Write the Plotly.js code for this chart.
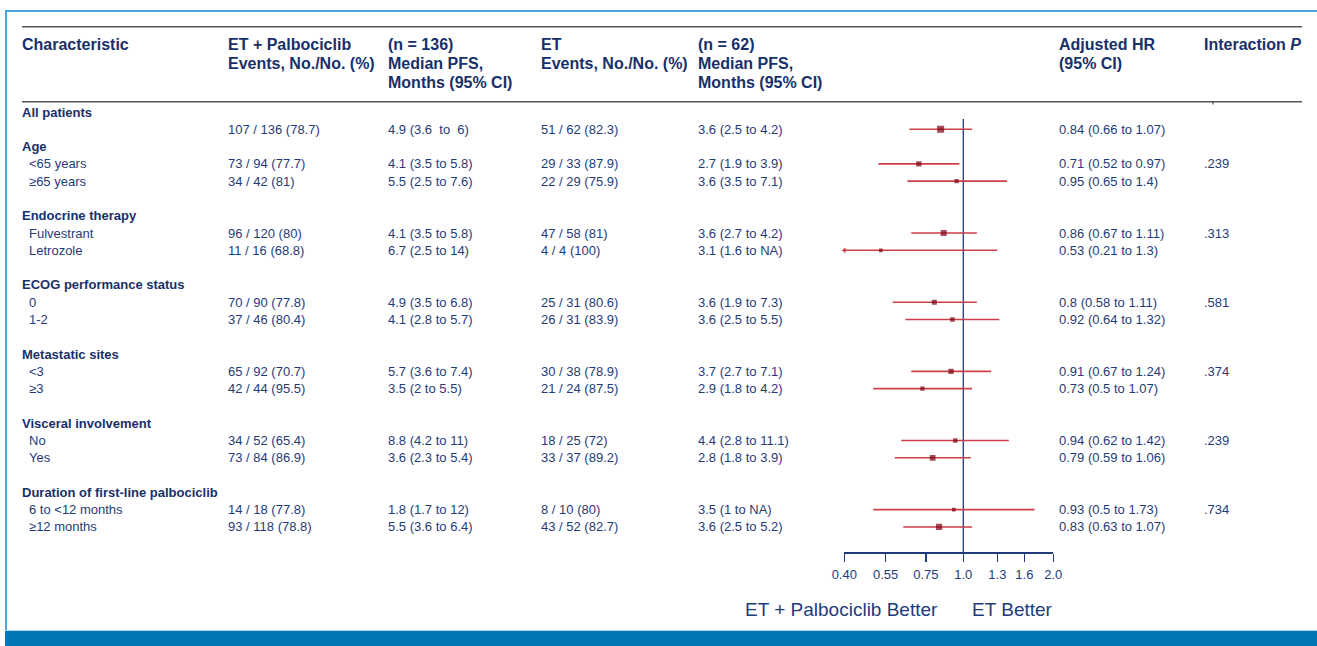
<!DOCTYPE html>
<html>
<head>
<meta charset="utf-8">
<script src="https://cdn.plot.ly/plotly-3.0.1.min.js"></script>
<style>html,body{margin:0;padding:0;background:#fff;}#chart{width:1317px;height:646px;}</style>
</head>
<body>
<div id="chart"></div>
<script>
// ---------------- data ----------------
const groups = ["All patients", "Age", "Endocrine therapy", "ECOG performance status",
  "Metastatic sites", "Visceral involvement", "Duration of first-line palbociclib"];
const groupSizes = [1, 2, 2, 2, 2, 2, 2];
const subgroups = ["", "<65 years", "≥65 years", "Fulvestrant", "Letrozole", "0", "1-2",
  "<3", "≥3", "No", "Yes", "6 to <12 months", "≥12 months"];
const palboEvents = ["107 / 136 (78.7)", "73 / 94 (77.7)", "34 / 42 (81)", "96 / 120 (80)",
  "11 / 16 (68.8)", "70 / 90 (77.8)", "37 / 46 (80.4)", "65 / 92 (70.7)", "42 / 44 (95.5)",
  "34 / 52 (65.4)", "73 / 84 (86.9)", "14 / 18 (77.8)", "93 / 118 (78.8)"];
const palboPFS = ["4.9 (3.6 \u00a0to \u00a06)", "4.1 (3.5 to 5.8)", "5.5 (2.5 to 7.6)", "4.1 (3.5 to 5.8)",
  "6.7 (2.5 to 14)", "4.9 (3.5 to 6.8)", "4.1 (2.8 to 5.7)", "5.7 (3.6 to 7.4)", "3.5 (2 to 5.5)",
  "8.8 (4.2 to 11)", "3.6 (2.3 to 5.4)", "1.8 (1.7 to 12)", "5.5 (3.6 to 6.4)"];
const etEvents = ["51 / 62 (82.3)", "29 / 33 (87.9)", "22 / 29 (75.9)", "47 / 58 (81)",
  "4 / 4 (100)", "25 / 31 (80.6)", "26 / 31 (83.9)", "30 / 38 (78.9)", "21 / 24 (87.5)",
  "18 / 25 (72)", "33 / 37 (89.2)", "8 / 10 (80)", "43 / 52 (82.7)"];
const etPFS = ["3.6 (2.5 to 4.2)", "2.7 (1.9 to 3.9)", "3.6 (3.5 to 7.1)", "3.6 (2.7 to 4.2)",
  "3.1 (1.6 to NA)", "3.6 (1.9 to 7.3)", "3.6 (2.5 to 5.5)", "3.7 (2.7 to 7.1)", "2.9 (1.8 to 4.2)",
  "4.4 (2.8 to 11.1)", "2.8 (1.8 to 3.9)", "3.5 (1 to NA)", "3.6 (2.5 to 5.2)"];
const hr   = [0.84, 0.71, 0.95, 0.86, 0.53, 0.8, 0.92, 0.91, 0.73, 0.94, 0.79, 0.93, 0.83];
const hrLo = [0.66, 0.52, 0.65, 0.67, 0.21, 0.58, 0.64, 0.67, 0.5, 0.62, 0.59, 0.5, 0.63];
const hrHi = [1.07, 0.97, 1.4, 1.11, 1.3, 1.11, 1.32, 1.24, 1.07, 1.42, 1.06, 1.73, 1.07];
const boxWeight = [7, 5.3, 4.3, 6, 3.7, 5, 4.7, 5.3, 4.3, 4.3, 5.7, 3.7, 6.2];
const interactionP = ["", ".239", "", ".313", "", ".581", "", ".374", "", ".239", "", ".734", ""];
const tickValues = [0.4, 0.55, 0.75, 1.0, 1.3, 1.6, 2.0];
const tickLabels = ["0.40", "0.55", "0.75", "1.0", "1.3", "1.6", "2.0"];
const axisMin = 0.4, axisMax = 2.0;

// ---------------- layout helpers ----------------
const W = 1317, H = 646;
const px = v => v / W;
const py = v => 1 - v / H;
const ROW0 = 112, STEP = 17.29, AXIS_Y = 552;
const rTop = (0 - ROW0) / STEP, rBot = (AXIS_Y - ROW0) / STEP;

const NAVY = "#1f3b78", HEAD = "#18306a";
const FONT = "Liberation Sans, Arial, Helvetica, sans-serif";

// row index of each group header / data row
const groupRows = [], dataRows = [];
let r = 0;
groupSizes.forEach((n, g) => {
  groupRows.push(r); r++;
  for (let k = 0; k < n; k++) { dataRows.push(r); r++; }
  if (g > 0) r++;
});

const annotations = [];
function ann(text, x, y, o = {}) {
  annotations.push(Object.assign({
    text, x: px(x), xref: "paper", y, yref: "y", xanchor: "left", yanchor: "middle",
    showarrow: false, borderpad: 0, borderwidth: 0,
    font: { family: FONT, size: 13, color: NAVY }
  }, o));
}
function headAnn(text, x, ypix) {
  ann(text, x, py(ypix), { yref: "paper", font: { family: FONT, size: 16, color: HEAD } });
}

// header
const HL = [44.5, 63.3, 82];
headAnn("<b>Characteristic</b>", 22, HL[0]);
headAnn("<b>ET + Palbociclib</b>", 228, HL[0]);
headAnn("<b>Events, No./No. (%)</b>", 228, HL[1]);
headAnn("<b>(n = 136)</b>", 388, HL[0]);
headAnn("<b>Median PFS,</b>", 388, HL[1]);
headAnn("<b>Months (95% CI)</b>", 388, HL[2]);
headAnn("<b>ET</b>", 541, HL[0]);
headAnn("<b>Events, No./No. (%)</b>", 541, HL[1]);
headAnn("<b>(n = 62)</b>", 698, HL[0]);
headAnn("<b>Median PFS,</b>", 698, HL[1]);
headAnn("<b>Months (95% CI)</b>", 698, HL[2]);
headAnn("<b>Adjusted HR</b>", 1059, HL[0]);
headAnn("<b>(95% CI)</b>", 1059, HL[1]);
headAnn("<b>Interaction <i>P</i></b>", 1204, HL[0]);

// group headers
groups.forEach((g, i) => ann("<b>" + g + "</b>", 22, groupRows[i], { font: { family: FONT, size: 13, color: HEAD } }));

// data rows
const esc = s => s.replace(/</g, "&lt;");
dataRows.forEach((row, i) => {
  if (subgroups[i]) ann(esc(subgroups[i]), 29, row);
  ann(palboEvents[i], 228, row);
  ann(palboPFS[i], 388, row);
  ann(etEvents[i], 541, row);
  ann(etPFS[i], 698, row);
  ann(`${hr[i]} (${hrLo[i]} to ${hrHi[i]})`, 1059, row);
  if (interactionP[i]) ann(interactionP[i], 1204, row);
});

// favour labels
ann("ET + Palbociclib Better", 938, py(609), { yref: "paper", xanchor: "right", font: { family: FONT, size: 19, color: NAVY } });
ann("ET Better", 972, py(609), { yref: "paper", font: { family: FONT, size: 19, color: NAVY } });

// ---------------- traces ----------------
const ciX = [], ciY = [];
dataRows.forEach((row, i) => { ciX.push(hrLo[i], hrHi[i], null); ciY.push(row, row, null); });

const clipped = hrLo.map((v, i) => v < axisMin ? i : -1).filter(i => i >= 0);

const traces = [
  { type: "scatter", mode: "lines", x: ciX, y: ciY, hoverinfo: "skip",
    line: { color: "rgb(205,62,72)", width: 1.6 } },
  { type: "scatter", mode: "markers", x: clipped.map(() => axisMin), y: clipped.map(i => dataRows[i]),
    cliponaxis: false, hoverinfo: "skip",
    marker: { symbol: "triangle-left", size: 5, color: "rgb(205,62,72)" } },
  { type: "scatter", mode: "markers", x: hr, y: dataRows,
    marker: { symbol: "square", size: boxWeight, color: "#7a0010", line: { width: 0 } } }
];

const shapes = [
  // frame
  { type: "line", xref: "paper", yref: "paper", x0: px(6), x1: px(6), y0: py(11), y1: py(632), line: { color: "#4aa6dc", width: 2 } },
  { type: "line", xref: "paper", yref: "paper", x0: px(5), x1: 1, y0: py(11), y1: py(11), line: { color: "#4aa6dc", width: 2 } },
  { type: "rect", xref: "paper", yref: "paper", x0: px(5), x1: 1, y0: 0, y1: py(631), fillcolor: "#0077b2", line: { width: 0 } },
  { type: "line", xref: "paper", yref: "paper", x0: px(5), x1: 1, y0: py(630.5), y1: py(630.5), line: { color: "#a9d3ee", width: 1 } },
  // rules
  { type: "line", xref: "paper", yref: "paper", x0: px(22), x1: px(1302), y0: py(26.7), y1: py(26.7), line: { color: "#555", width: 1.6 } },
  { type: "line", xref: "paper", yref: "paper", x0: px(22), x1: px(1302), y0: py(101.7), y1: py(101.7), line: { color: "#555", width: 1.6 } },
  { type: "line", xref: "paper", yref: "paper", x0: px(1213), x1: px(1213), y0: py(101.7), y1: py(104.5), line: { color: "#333", width: 1 } },
  // reference line at HR = 1
  { type: "line", xref: "x", yref: "y", x0: 1, x1: 1, y0: 0.4, y1: rBot, line: { color: NAVY, width: 1.3 }, layer: "below" }
];

const layout = {
  width: W, height: H,
  margin: { l: 0, r: 0, t: 0, b: 0 },
  paper_bgcolor: "#fff", plot_bgcolor: "rgba(0,0,0,0)",
  showlegend: false,
  xaxis: {
    type: "log", range: [Math.log10(axisMin), Math.log10(axisMax)],
    domain: [px(844.3), px(1053.3)],
    tickvals: tickValues, ticktext: tickLabels,
    showline: true, linecolor: NAVY, linewidth: 1.5,
    ticks: "outside", ticklen: 8, tickwidth: 1.5, tickcolor: NAVY,
    ticklabelstandoff: 2,
    tickfont: { family: FONT, size: 13, color: NAVY },
    showgrid: false, zeroline: false, fixedrange: true
  },
  yaxis: {
    range: [rBot, rTop], domain: [py(AXIS_Y), 1],
    visible: false, showgrid: false, zeroline: false, fixedrange: true
  },
  annotations, shapes
};

Plotly.newPlot("chart", traces, layout, { staticPlot: true, displayModeBar: false });
</script>
</body>
</html>
